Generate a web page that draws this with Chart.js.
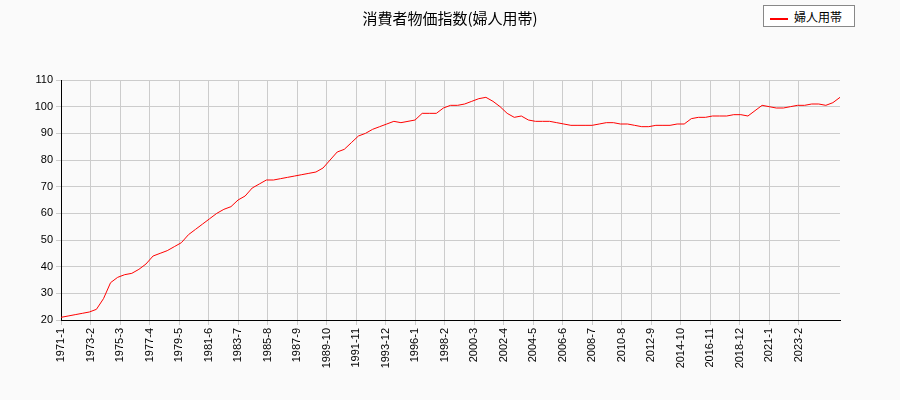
<!DOCTYPE html><html><head><meta charset="utf-8">
<script src="https://cdn.jsdelivr.net/npm/chart.js@4"></script>
<style>body{margin:0;background:#fafafa;font-family:"Noto Sans CJK JP",sans-serif}
#w{position:relative;width:900px;height:400px}
#t{position:absolute;left:0;top:7px;width:900px;text-align:center;font-size:15px}
#lg{position:absolute;left:763px;top:5px;width:92px;height:22px;border:1px solid #888;background:#fff;font-size:12px;line-height:21px;box-sizing:border-box}
#lg span{display:inline-block;width:18px;height:2px;background:red;vertical-align:middle;margin:0 6px 0 6px}</style></head><body>
<div id="w"><canvas id="c" width="900" height="400"></canvas><div id="t">消費者物価指数(婦人用帯)</div><div id="lg"><span></span>婦人用帯</div></div>
<script>
const startYear=1971;
const stepMonths=6;
const values=[21,21.5,22,22.5,23,24,28,34,36,37,37.5,39,41,44,45,46,47.5,49,52,54,56,58,60,61.5,62.5,65,66.5,69.5,71,72.5,72.5,73,73.5,74,74.5,75,75.5,77,80,83,84,86.5,89,90,91.5,92.5,93.5,94.5,94,94.5,95,97.5,97.5,97.5,99.5,100.5,100.5,101,102,103,103.5,102,100,97.5,96,96.5,95,94.5,94.5,94.5,94,93.5,93,93,93,93,93.5,94,94,93.5,93.5,93,92.5,92.5,93,93,93,93.5,93.5,95.5,96,96,96.5,96.5,96.5,97,97,96.5,98.5,100.5,100,99.5,99.5,100,100.5,100.5,101,101,100.5,101.5,103.5,104.5];
const tickStep=25;
const pts=values.map((v,i)=>({x:i*stepMonths,y:v}));
new Chart(document.getElementById('c'),{type:'line',
data:{datasets:[{data:pts,borderColor:'red',borderWidth:1,pointRadius:0,tension:0}]},
options:{responsive:false,animation:false,
layout:{padding:{left:0,right:60,top:80,bottom:0}},
plugins:{legend:{display:false},title:{display:false}},
scales:{x:{type:'linear',min:0,max:660,afterFit:s=>{s.height=80},afterBuildTicks:s=>{s.ticks=s.ticks.filter(t=>t.value%tickStep===0&&t.value<660)},ticks:{stepSize:tickStep,maxRotation:90,minRotation:90,autoSkip:false,color:'#000',font:{size:11}},grid:{color:'#ccc',tickLength:5},border:{color:'#000'}},
y:{min:20,max:110,afterFit:s=>{s.width=61},ticks:{stepSize:10,color:'#000',font:{size:11}},grid:{color:'#ccc',tickLength:5},border:{color:'#000'}}}}});
Chart.getChart('c').options.scales.x.ticks.callback=v=>{const y=startYear+Math.floor(v/12),m=v%12+1;return y+'-'+m};
Chart.getChart('c').update();
</script></body></html>
